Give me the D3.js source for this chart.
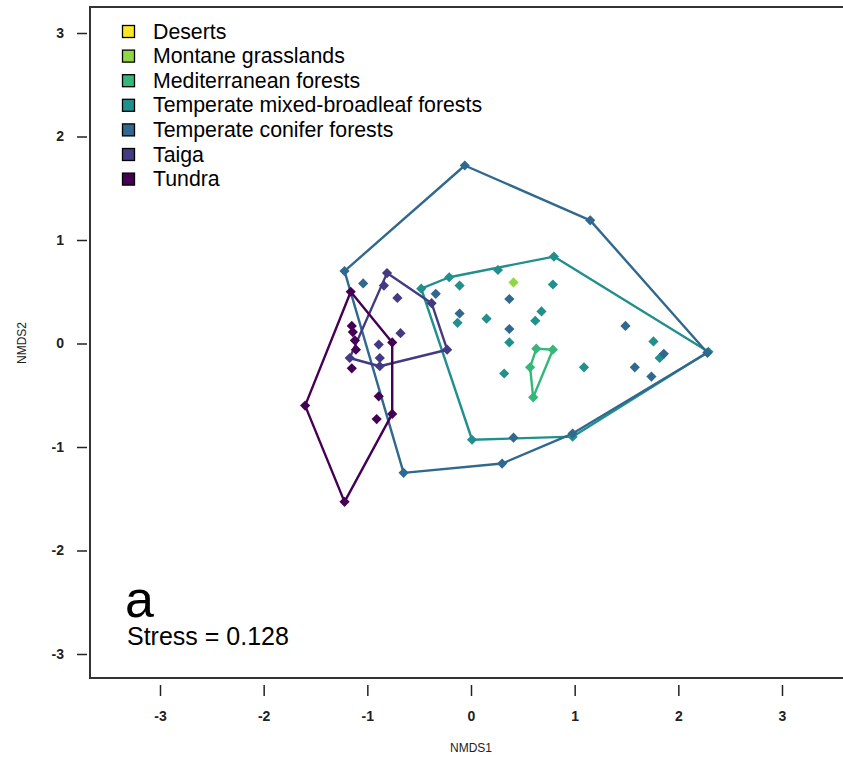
<!DOCTYPE html>
<html>
<head>
<meta charset="utf-8">
<script src="https://cdn.jsdelivr.net/npm/d3@7"></script>
<style>
  body { margin: 0; background: #fff; }
  svg { display: block; font-family: "Liberation Sans", Arial, sans-serif; }
</style>
</head>
<body>
<div id="chart"></div>
<script>
// biome groups, legend order
var biomes = ["Deserts", "Montane grasslands", "Mediterranean forests",
  "Temperate mixed-broadleaf forests", "Temperate conifer forests", "Taiga", "Tundra"];
var colors = ["#FDE725", "#8FD744", "#35B779", "#21908C", "#31688E", "#443A83", "#440154"];

// NMDS site scores [NMDS1, NMDS2] per biome
var deserts = [];
var montane = [[0.41, 0.59]];
var mediterranean = [[0.63, -0.05], [0.79, -0.06], [0.60, -0.52], [0.57, -0.23]];
var tempMixed = [[-0.48, 0.53], [-0.21, 0.64], [0.26, 0.71], [0.80, 0.84], [2.29, -0.08],
  [0.98, -0.90], [0.01, -0.93], [-0.11, 0.56], [0.79, 0.57], [-0.13, 0.20], [0.15, 0.24],
  [0.68, 0.31], [0.62, 0.22], [0.37, 0.01], [0.32, -0.29], [1.09, -0.23], [1.76, 0.02],
  [1.82, -0.14]];
var conifer = [[-1.22, 0.70], [-0.06, 1.72], [1.15, 1.19], [2.28, -0.09], [0.98, -0.87],
  [0.30, -1.16], [-0.65, -1.25], [-1.04, 0.58], [-0.34, 0.48], [0.37, 0.43], [-0.11, 0.29],
  [0.37, 0.14], [1.49, 0.17], [1.86, -0.10], [1.58, -0.23], [1.74, -0.32], [0.41, -0.91]];
var taiga = [[-0.81, 0.68], [-0.84, 0.56], [-0.71, 0.44], [-0.38, 0.39], [-0.68, 0.10],
  [-0.89, -0.01], [-0.88, -0.14], [-0.88, -0.22], [-1.17, -0.14], [-0.23, -0.06]];
var tundra = [[-1.16, 0.50], [-1.15, 0.17], [-1.14, 0.11], [-1.12, 0.03], [-1.11, -0.06],
  [-1.15, -0.24], [-0.76, 0.01], [-0.76, -0.68], [-0.89, -0.51], [-0.91, -0.73],
  [-1.60, -0.60], [-1.22, -1.53]];

var groups = [deserts, montane, mediterranean, tempMixed, conifer, taiga, tundra];
var ticks = [-3, -2, -1, 0, 1, 2, 3];

var width = 843, height = 765;
var svg = d3.select("#chart").append("svg")
  .attr("width", width).attr("height", height);

var x = d3.scaleLinear().domain([-3, 3]).range([160, 782]);
var y = d3.scaleLinear().domain([-3, 3]).range([654, 33]);

// plot box (right side runs off the page)
var box = { left: 90, top: 7, bottom: 678 };
svg.append("path")
  .attr("d", `M${width + 5},${box.top}H${box.left}V${box.bottom}H${width + 5}`)
  .attr("fill", "none").attr("stroke", "#333").attr("stroke-width", 2);

// x axis
var xAxis = svg.append("g").attr("transform", "translate(0,685)")
  .call(d3.axisBottom(x).tickValues(ticks).tickSize(11).tickPadding(15).tickFormat(d3.format("d")));
// y axis
var yAxis = svg.append("g").attr("transform", "translate(87,0)")
  .call(d3.axisLeft(y).tickValues(ticks).tickSize(10).tickPadding(13).tickFormat(d3.format("d")));
[xAxis, yAxis].forEach(function (g) {
  g.attr("font-size", 14);
  g.select(".domain").remove();
  g.selectAll("line").attr("stroke", "#222").attr("stroke-width", 1.5);
  g.selectAll("text").style("font-size", "14px").attr("font-weight", "bold")
    .attr("font-family", "Liberation Sans, Arial, sans-serif").attr("fill", "#222");
});
xAxis.selectAll("text").text(function (d) { return d < 0 ? "-" + Math.abs(d) : d; });
yAxis.selectAll("text").text(function (d) { return d < 0 ? "-" + Math.abs(d) : d; });

svg.append("text").attr("x", 471).attr("y", 752).attr("text-anchor", "middle")
  .attr("font-size", 12).attr("fill", "#222").text("NMDS1");
svg.append("text").attr("transform", "translate(26,343) rotate(-90)")
  .attr("text-anchor", "middle").attr("font-size", 12).attr("fill", "#222").text("NMDS2");

// hulls
groups.forEach(function (pts, i) {
  if (pts.length < 3) return;
  var hull = d3.polygonHull(pts.map(function (p) { return [x(p[0]), y(p[1])]; }));
  svg.append("path")
    .attr("d", "M" + hull.join("L") + "Z")
    .attr("fill", "none")
    .attr("stroke", colors[i])
    .attr("stroke-width", 2.4)
    .attr("stroke-linejoin", "round");
});

// points (filled diamonds)
var diamond = d3.symbol().type(d3.symbolSquare).size(52);
groups.forEach(function (pts, i) {
  svg.append("g").selectAll("path")
    .data(pts)
    .enter().append("path")
    .attr("d", diamond)
    .attr("transform", function (d) { return `translate(${x(d[0])},${y(d[1])}) rotate(45)`; })
    .attr("fill", colors[i]);
});

// legend
var legend = svg.append("g");
biomes.forEach(function (name, i) {
  var cy = 31.5 + i * 24.6;
  legend.append("rect").attr("x", 122.5).attr("y", cy - 6).attr("width", 12).attr("height", 12)
    .attr("fill", colors[i]).attr("stroke", "#000").attr("stroke-width", 1.3);
  legend.append("text").attr("x", 153).attr("y", cy + 7).attr("font-size", 21.3)
    .attr("fill", "#000").text(name);
});

// panel label and stress
svg.append("text").attr("x", 125).attr("y", 617).attr("font-size", 52).attr("fill", "#000").text("a");
svg.append("text").attr("x", 127).attr("y", 645).attr("font-size", 25).attr("fill", "#000").text("Stress = 0.128");
</script>
</body>
</html>
